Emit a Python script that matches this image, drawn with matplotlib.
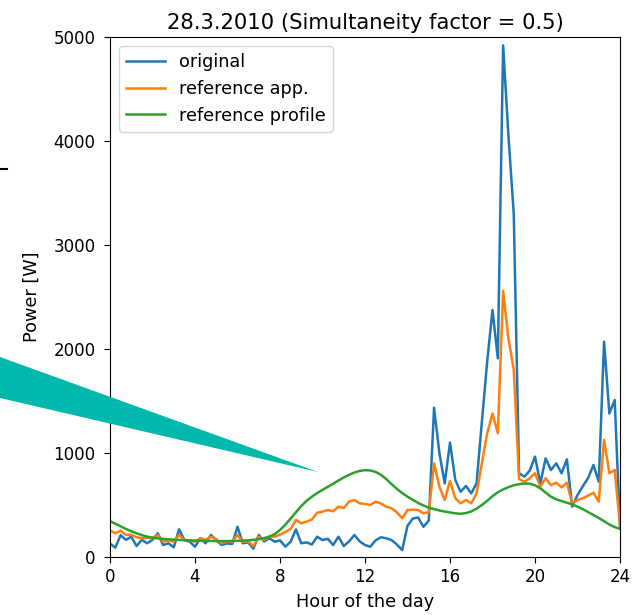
import numpy as np
import matplotlib
matplotlib.use("Agg")
import matplotlib.pyplot as plt
from matplotlib.patches import Polygon
from matplotlib.lines import Line2D

# 15 min steps, 0..24 h
hours = np.arange(97) * 0.25

original = [130, 90, 210, 165, 195, 106, 165, 132, 165, 228, 115, 132,
            93, 266, 163, 147, 99, 180, 132, 212, 163, 115, 130, 125,
            291, 132, 140, 80, 212, 150, 180, 147, 160, 99, 147, 266,
            132, 140, 120, 195, 163, 175, 115, 195, 106, 150, 212, 150,
            115, 99, 160, 190, 180, 163, 120, 67, 300, 370, 380, 290,
            350, 1436, 1000, 708, 1100, 740, 628, 683, 612, 708, 1300, 1880,
            2375, 1910, 4920, 4050, 3300, 805, 772, 830, 965, 708, 949, 836,
            900, 805, 939, 484, 596, 680, 760, 885, 724, 2070, 1380, 1510,
            290]

ref_app = [255, 228, 253, 212, 215, 190, 180, 185, 180, 212, 147, 160,
           147, 212, 163, 160, 147, 180, 165, 195, 170, 132, 147, 150,
           212, 147, 150, 106, 195, 165, 200, 195, 215, 240, 270, 356,
           324, 340, 360, 426, 436, 452, 440, 484, 470, 532, 548, 516,
           510, 500, 532, 515, 484, 468, 430, 372, 452, 455, 452, 420,
           430, 900, 676, 548, 731, 564, 516, 548, 516, 612, 900, 1190,
           1380, 1190, 2560, 2100, 1800, 750, 724, 757, 805, 676, 757, 692,
           714, 670, 714, 516, 548, 565, 590, 618, 532, 1125, 805, 837,
           300]

ref_profile = [345, 320, 295, 270, 248, 228, 210, 196, 186, 179, 174, 170,
               167, 164, 162, 160, 158, 156, 155, 154, 153, 153, 153, 154,
               155, 157, 160, 165, 172, 182, 195, 220, 260, 310, 370, 430,
               490, 540, 580, 615, 645, 675, 705, 735, 765, 790, 812, 828,
               835, 832, 818, 790, 750, 700, 655, 615, 580, 550, 520, 495,
               475, 460, 447, 437, 428, 420, 416, 422, 438, 465, 500, 540,
               585, 622, 650, 672, 690, 700, 707, 705, 690, 660, 620, 580,
               555, 538, 522, 505, 485, 460, 432, 404, 375, 345, 312, 288,
               270]

plt.rcParams['font.size'] = 12.7
plt.rcParams['xtick.labelsize'] = 12
plt.rcParams['ytick.labelsize'] = 12
plt.rcParams['lines.linewidth'] = 1.8
plt.rcParams['xtick.major.size'] = 4.3
plt.rcParams['ytick.major.size'] = 4.3
plt.rcParams['ytick.major.pad'] = 6

W, H = 644, 615
fig = plt.figure(figsize=(W / 100, H / 100), dpi=100)
ax = fig.add_axes([110 / W, 1 - 557 / H, 510 / W, 520 / H])

ax.plot(hours, original, label='original')
ax.plot(hours, ref_app, label='reference app.')
ax.plot(hours, ref_profile, label='reference profile')

ax.set_xlim(0, 24)
ax.set_ylim(0, 5000)
ax.set_xticks(np.arange(0, 25, 4))
ax.set_yticks(np.arange(0, 5001, 1000))
ax.set_xlabel('Hour of the day', labelpad=5)
ax.set_ylabel('Power [W]', labelpad=9)
ax.set_title('28.3.2010 (Simultaneity factor = 0.5)')
ax.legend(loc='upper left', handlelength=2.2)

# leftovers from the neighbouring figure (teal arrow, black tick)
def px(x, y):
    return (x / W, 1 - y / H)

arrow = Polygon([px(0, 357), px(318, 472), px(0, 398)], closed=True,
                transform=fig.transFigure, facecolor='#00b9ac',
                edgecolor='none', zorder=10)
fig.patches.append(arrow)
fig.lines.append(Line2D([0, 7 / W], [1 - 169 / H] * 2, color='black',
                        lw=1.5, transform=fig.transFigure))

fig.savefig('out.png', dpi=100)
